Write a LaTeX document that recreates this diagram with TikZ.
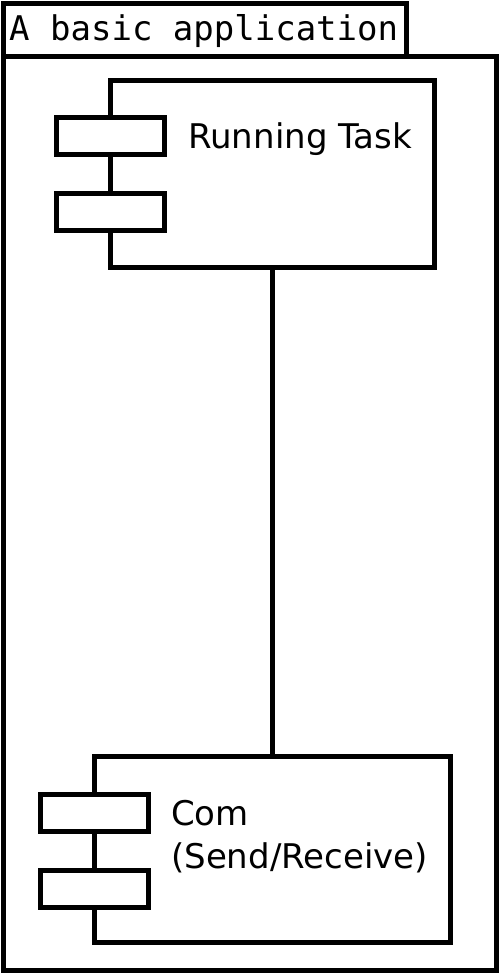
\documentclass[tikz,border=0pt]{standalone}
\usepackage{fontspec}
\setmainfont{DejaVu Sans}
\setmonofont{DejaVu Sans Mono}
\begin{document}
\begin{tikzpicture}[x=1pt,y=-1pt,
  box/.style={draw=black,line width=5pt,fill=white,inner sep=0pt,outer sep=0pt,rectangle},
  port/.style={box,minimum width=108pt,minimum height=37pt},
  lbl/.style={font=\fontsize{34}{43}\selectfont,inner sep=0pt,anchor=base west,align=left},
  wire/.style={line width=5pt}]
\useasboundingbox (0,0) rectangle (500,973);
\node[box,minimum width=493pt,minimum height=913pt] (frame) at (249.5,513.5) {};
\node[box,minimum width=403pt,minimum height=53.5pt] (tab) at (204.5,30.25) {};
\node[font=\ttfamily\fontsize{34}{40}\selectfont,inner sep=0pt,anchor=base west] (title) at (9,41) {A basic application};
% component 1
\node[box,minimum width=324pt,minimum height=187pt] (c1) at (272.5,174) {};
\node[port] (c1p1) at (110.5,136) {};
\node[port] (c1p2) at (110.5,212) {};
\node[lbl] (c1t) at (188,149) {Running Task};
% component 2
\node[box,minimum width=356pt,minimum height=186pt] (c2) at (272.5,849.5) {};
\node[port] (c2p1) at (94,812.5) {};
\node[port] (c2p2) at (94,888.5) {};
\node[lbl] (c2t) at (171,868) {Com\\(Send/Receive)};
\draw[wire] (c1.south) -- (c2.north);
\end{tikzpicture}
\end{document}
